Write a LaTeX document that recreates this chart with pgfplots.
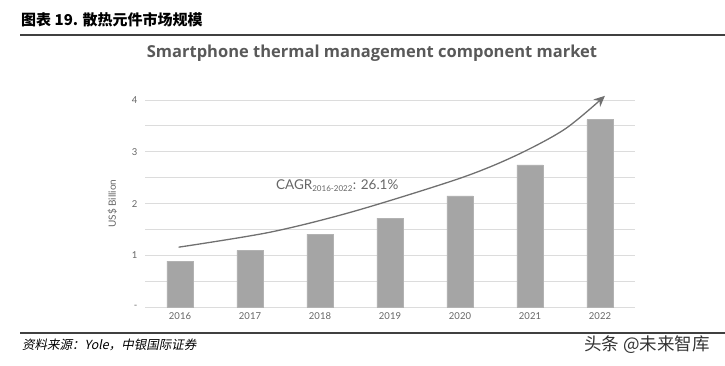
\documentclass[border=0pt]{standalone}
\usepackage{pgfplots}
\pgfplotsset{compat=1.18}
\usepackage{fontspec}
\setmainfont{Lato}
\newfontfamily\cjk{Noto Sans CJK SC}
\newfontfamily\cjkit[FakeSlant=0.2]{Noto Sans CJK SC}
\newfontfamily\titlefont{Open Sans}
\usetikzlibrary{arrows.meta}
\definecolor{bargray}{HTML}{A5A5A5}
\definecolor{gridgray}{HTML}{DCDCDC}
\definecolor{txtgray}{HTML}{666666}
\definecolor{titlegray}{HTML}{595959}
\definecolor{arrowgray}{HTML}{707070}
\begin{document}
\begin{tikzpicture}[x=1pt,y=1pt]
\path[use as bounding box] (0,0) rectangle (725,365);
% header
\node[anchor=west,inner sep=0pt] at (21,345) {\cjk\bfseries\fontsize{15}{17}\selectfont 图表 19. 散热元件市场规模};
\draw[line width=1.3pt,color=black!75] (20,330) -- (725,330);
\node[inner sep=0pt] at (372,312) {\titlefont\bfseries\fontsize{16.5}{18}\selectfont\color{titlegray} Smartphone thermal management component market};
% footer
\draw[line width=1.3pt,color=black!75] (20,32) -- (725,32);
\node[anchor=west,inner sep=0pt] at (22,20) {\cjkit\fontsize{12.5}{14}\selectfont 资料来源：Yole，中银国际证券};
\node[anchor=east,inner sep=0pt] at (710,20) {\cjk\fontsize{17.5}{19}\selectfont\color{black!80} 头条 @未来智库};
\begin{axis}[
  at={(145pt,57.7pt)}, anchor=south west,
  scale only axis, width=490pt, height=207.3pt,
  xmin=-0.5, xmax=6.5, ymin=0, ymax=4,
  axis line style={draw=none},
  xtick={0,1,2,3,4,5,6},
  xticklabels={2016,2017,2018,2019,2020,2021,2022},
  ytick={0,0.5,1,1.5,2,2.5,3,3.5,4},
  yticklabels={{-},{},{1},{},{2},{},{3},{},{4}},
  ymajorgrids, grid style={gridgray, line width=1pt},
  major tick length=0pt,
  tick label style={color=txtgray, font=\fontsize{9.5}{11}\selectfont},
  xticklabel style={yshift=-2pt},
  yticklabel style={xshift=-4pt},
  /pgf/number format/assume math mode=true,
  ylabel={US\$ Billion},
  ylabel style={color=txtgray, font=\fontsize{10}{12}\selectfont, yshift=8pt},
  clip=false,
]
\addplot[ybar, bar width=0.375, fill=bargray, draw=bargray!85!white] coordinates {
(0,0.89) (1,1.10) (2,1.41) (3,1.72) (4,2.15) (5,2.75) (6,3.62)};
\addplot[smooth, tension=0.5, color=arrowgray, line width=1.3pt, -{Stealth[length=11pt,width=10pt]}] coordinates {
(-0.02,1.16) (1.29,1.45) (2.48,1.85) (4.0,2.49) (4.8,2.93) (5.5,3.44) (6.07,4.08)};
\node[anchor=west, inner sep=0pt, color=txtgray] at (axis cs:1.37,2.34) {\fontsize{13.5}{16}\selectfont CAGR\textsubscript{\fontsize{8}{9}\selectfont 2016-2022}: 26.1\%};
\end{axis}
\end{tikzpicture}
\end{document}
